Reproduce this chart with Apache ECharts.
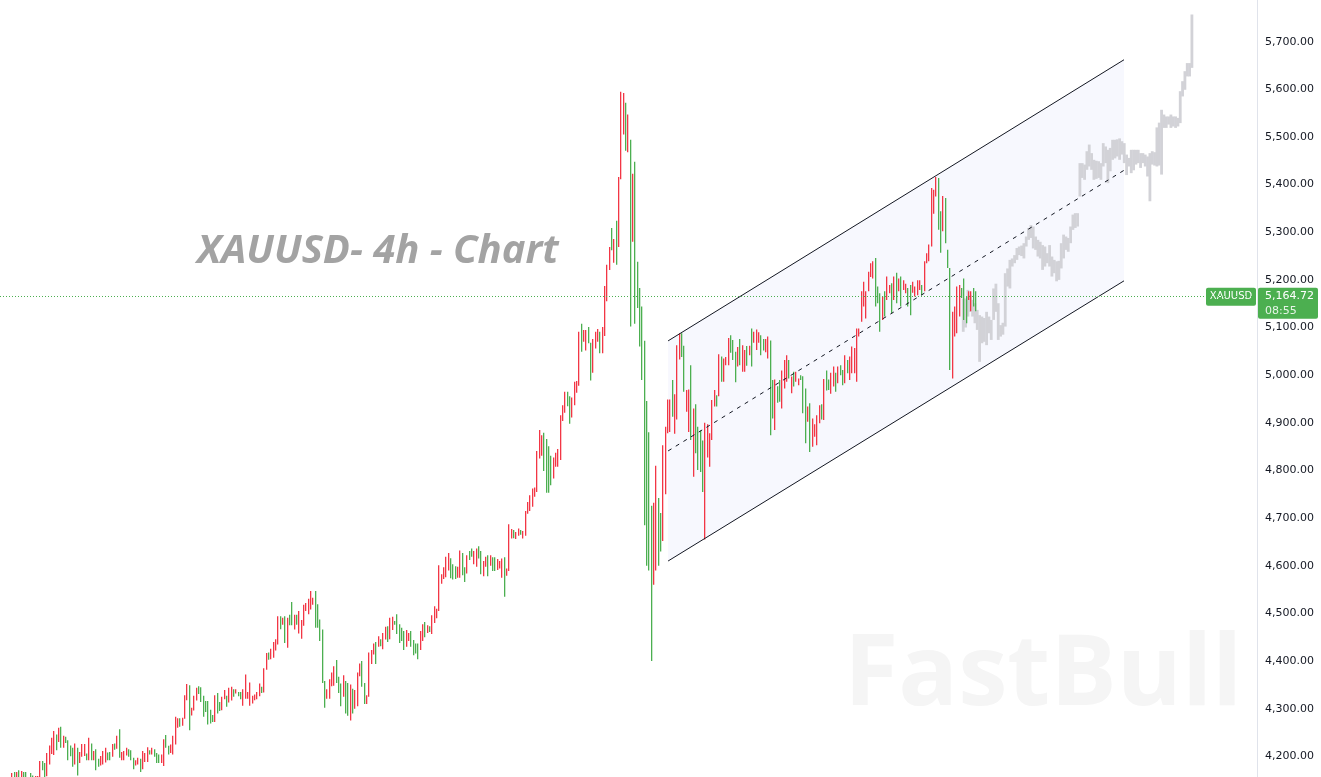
<!DOCTYPE html>
<html>
<head>
<meta charset="utf-8">
<title>XAUUSD 4h</title>
<script src="https://cdn.jsdelivr.net/npm/echarts@6.0.0/dist/echarts.min.js"></script>
<style>
  html, body { margin: 0; padding: 0; background: #fff; overflow: hidden; }
  /* 画布比窗口略高, 让 5,700 / 4,200 刻度落在截图里的位置 */
  #main { position: absolute; left: 0; top: -6px; width: 1321px; height: 810px; }
</style>
</head>
<body>
<div id="main"></div>
<script>
// 4h K线 最高价
const barHigh = [
  4165,4167,4167,4171,4169,4167,4167,4155,4165,4160,4159,4159,4190,4190,4186,4207,4223,4239,4253,4246,
  4260,4262,4243,4241,4234,4223,4218,4227,4218,4209,4226,4226,4206,4239,4227,4211,4215,4195,4201,4211,
  4218,4208,4209,4226,4227,4243,4257,4209,4211,4218,4215,4213,4197,4192,4197,4195,4211,4207,4219,4213,
  4218,4215,4207,4204,4204,4236,4245,4222,4225,4243,4283,4280,4280,4281,4328,4352,4349,4302,4327,4344,
  4347,4345,4327,4316,4316,4298,4287,4328,4333,4314,4325,4339,4327,4344,4346,4341,4341,4335,4335,4341,
  4372,4335,4355,4327,4330,4335,4353,4346,4385,4417,4418,4426,4440,4446,4494,4494,4491,4494,4491,4497,
  4524,4497,4497,4505,4486,4518,4522,4531,4547,4533,4547,4519,4487,4466,4358,4341,4362,4376,4389,4402,
  4367,4353,4370,4358,4354,4351,4342,4339,4376,4395,4400,4354,4328,4418,4423,4437,4440,4452,4446,4459,
  4472,4473,4491,4493,4484,4498,4477,4470,4463,4465,4459,4463,4444,4437,4437,4463,4477,4482,4475,4473,
  4496,4515,4510,4601,4582,4597,4619,4627,4616,4603,4599,4598,4632,4627,4597,4622,4631,4636,4631,4636,
  4641,4631,4610,4619,4622,4622,4618,4618,4614,4610,4615,4618,4594,4687,4677,4675,4671,4678,4675,4673,
  4715,4734,4748,4762,4764,4841,4885,4874,4879,4866,4851,4831,4827,4837,4845,4916,4937,4965,4965,4956,
  4953,4986,4988,5091,5108,5095,5095,5101,5068,5076,5091,5097,5091,5101,5187,5232,5269,5309,5286,5324,
  5416,5595,5592,5572,5547,5494,5423,5448,5238,5183,5144,5072,4946,4880,4726,4732,4810,4742,4711,4853,
  4892,4949,4949,4990,4960,5063,5088,5088,5062,4969,4970,5021,4930,4939,4892,4884,4863,4900,4897,4878,
  4948,4969,4958,5044,5039,5035,5038,5078,5084,5074,5049,5059,5076,5063,5053,5061,5062,5098,5091,5096,
  5090,5084,5076,5076,5081,5073,4990,4991,4977,4990,5010,5032,5042,5032,4997,5007,5007,4993,5000,4998,
  4972,4934,4941,4909,4897,4916,4937,4939,4992,5010,4991,5005,5018,5005,5018,5021,5011,5042,5032,5039,
  5060,5057,5098,5098,5176,5196,5176,5217,5235,5239,5246,5186,5172,5165,5176,5207,5189,5193,5207,5215,
  5203,5207,5199,5192,5183,5189,5196,5186,5199,5199,5189,5239,5256,5274,5393,5389,5416,5414,5344,5376,
  5372,5263,5225,5133,5144,5186,5189,5183,5203,5165,5176,5176,5183,5176
];
// 最低价
const barLow = [
  4148,4150,4152,4150,4152,4155,4154,4140,4152,4150,4148,4147,4150,4171,4150,4158,4183,4205,4203,4213,
  4230,4218,4218,4228,4192,4200,4178,4183,4160,4186,4199,4201,4192,4192,4192,4192,4171,4178,4181,4183,
  4187,4192,4192,4199,4214,4216,4197,4192,4192,4202,4199,4192,4173,4181,4183,4167,4173,4188,4188,4204,
  4204,4199,4186,4186,4186,4180,4218,4204,4207,4204,4225,4260,4262,4264,4279,4318,4255,4286,4296,4317,
  4331,4314,4283,4293,4267,4269,4272,4272,4290,4295,4297,4320,4304,4313,4317,4325,4332,4326,4320,4306,
  4321,4321,4306,4311,4318,4320,4326,4333,4334,4382,4403,4404,4407,4422,4435,4467,4476,4438,4428,4475,
  4475,4466,4476,4458,4447,4474,4505,4498,4508,4518,4470,4470,4442,4354,4302,4321,4321,4347,4348,4354,
  4333,4305,4325,4290,4285,4275,4290,4300,4305,4368,4346,4310,4310,4325,4394,4414,4394,4430,4431,4425,
  4445,4440,4446,4465,4476,4457,4438,4442,4423,4430,4442,4430,4412,4416,4404,4423,4442,4450,4459,4461,
  4457,4480,4490,4505,4562,4572,4576,4590,4574,4571,4572,4575,4575,4580,4566,4584,4612,4619,4603,4598,
  4615,4582,4578,4598,4578,4600,4589,4589,4591,4594,4575,4535,4579,4589,4657,4658,4656,4663,4665,4657,
  4663,4709,4715,4724,4745,4755,4825,4831,4799,4753,4753,4769,4783,4808,4808,4822,4904,4921,4935,4898,
  4911,4937,4963,4978,5049,5070,5052,5067,4989,5005,5056,5070,5046,5046,5082,5155,5221,5262,5236,5232,
  5269,5411,5505,5471,5468,5102,5280,5108,5141,5060,4990,4685,4600,4590,4400,4560,4590,4600,4630,4652,
  4750,4878,4881,4913,4877,4907,5033,5038,4965,4923,4881,4864,4787,4836,4801,4797,4755,4655,4827,4808,
  4864,4934,4934,4956,4986,4986,5021,5021,5047,5032,4985,5018,5021,5007,5007,5020,5042,5018,5068,5053,
  5068,5042,5052,5048,5035,4874,4909,4885,4942,4944,4930,4972,4986,4993,4962,4976,4986,4979,4990,4920,
  4857,4902,4839,4850,4871,4853,4899,4907,4906,4968,4969,4961,4976,4965,4983,5000,4979,4983,5004,4990,
  5004,5004,4986,5081,5112,5144,5119,5176,5206,5203,5144,5151,5091,5116,5123,5158,5172,5130,5158,5151,
  5176,5144,5179,5172,5144,5126,5173,5165,5168,5179,5168,5176,5235,5239,5270,5339,5375,5305,5257,5302,
  5277,5225,5011,4993,5081,5088,5123,5162,5116,5109,5158,5134,5144,5134
];
// 1 = 收涨(红) 0 = 收跌(绿)
const barUp = [
  1,0,1,0,1,0,0,0,0,0,1,1,1,0,0,1,1,1,1,0,
  1,0,1,0,0,0,0,1,0,1,1,1,0,1,0,1,0,0,1,1,
  1,0,0,1,0,1,0,1,1,1,0,0,0,1,1,0,1,1,1,0,
  1,0,0,0,1,1,0,0,1,1,1,1,0,1,1,1,0,1,1,1,
  0,0,0,0,0,0,0,1,0,0,1,1,0,1,1,0,1,0,0,1,
  1,1,1,1,1,1,1,0,1,1,0,1,1,1,1,0,1,0,1,0,
  0,1,0,1,1,1,1,1,1,1,0,0,0,0,0,1,1,1,1,0,
  0,0,1,0,0,1,0,1,1,1,0,0,1,1,1,1,0,1,0,1,
  1,0,1,1,0,0,0,0,0,1,1,0,0,0,0,1,1,0,1,0,
  1,1,1,1,1,1,1,1,0,0,0,1,1,0,0,1,0,0,1,1,
  0,0,1,1,0,1,0,0,1,1,1,0,1,1,1,0,1,1,0,1,
  1,1,1,1,1,1,1,1,0,0,0,0,1,1,1,1,1,1,0,0,
  1,1,1,1,0,1,1,0,0,1,1,1,0,1,1,1,1,0,1,0,
  1,1,1,0,1,0,1,0,0,0,0,0,0,0,0,1,1,0,0,1,
  1,1,1,0,1,1,1,0,0,1,1,0,1,0,0,0,0,1,1,1,
  1,1,0,1,0,1,1,1,0,0,0,1,0,1,1,0,1,0,1,1,
  1,0,0,1,1,0,0,1,0,0,1,1,1,0,1,0,1,1,0,0,
  0,1,0,1,1,1,1,0,1,0,0,1,1,0,1,0,0,1,0,1,
  1,1,1,1,1,1,1,1,1,1,0,0,0,1,0,1,1,0,1,0,
  1,0,1,1,0,0,1,1,1,1,0,1,1,1,1,1,1,0,0,1,
  0,0,0,1,1,1,1,0,0,0,1,1,0,0
];

// 灰色投影 (bars pattern), 从第 408 根开始
const ghostStart = 408;
const ghostHigh = [
  5161,5161,5179,5168,5158,5151,5137,5126,5123,5120,5133,5123,5116,5182,5192,5151,5105,5110,5214,5224,
  5242,5245,5252,5267,5270,5272,5277,5291,5309,5315,5312,5291,5284,5280,5273,5270,5256,5273,5249,5242,
  5239,5240,5277,5295,5291,5288,5312,5337,5340,5340,5445,5445,5442,5470,5484,5466,5452,5450,5449,5445,
  5487,5480,5473,5477,5494,5494,5495,5497,5491,5487,5463,5456,5473,5473,5473,5473,5466,5466,5463,5459,
  5466,5470,5468,5520,5530,5557,5547,5543,5543,5547,5543,5543,5540,5596,5617,5638,5655,5655,5757
];
const ghostLow = [
  5091,5100,5123,5133,5123,5109,5095,5028,5067,5070,5063,5088,5074,5116,5133,5074,5081,5085,5102,5186,
  5182,5228,5235,5242,5252,5250,5245,5270,5284,5288,5266,5263,5249,5245,5221,5228,5235,5228,5207,5214,
  5197,5200,5224,5245,5263,5259,5277,5305,5309,5312,5375,5414,5410,5431,5438,5431,5410,5412,5414,5410,
  5438,5445,5403,5428,5452,5455,5459,5452,5463,5445,5420,5438,5424,5430,5442,5445,5435,5445,5438,5417,
  5365,5442,5440,5438,5440,5421,5519,5519,5526,5519,5522,5519,5522,5529,5585,5599,5627,5627,5645
];

// 平行通道 (起止 K 线序号, 上/下轨价格)
const channelX = [281.5, 476.9];
const channelUpper = [5072, 5662];
const channelLower = [4610, 5198];
const channelMid = [(channelUpper[0] + channelLower[0]) / 2, (channelUpper[1] + channelLower[1]) / 2];

const yTicks = { min: 4100, max: 5800, step: 100 };
const lastPrice = 5164.72;
const lastPriceText = "5,164.72";
const countdown = "08:55";
const symbolName = "XAUUSD";
const titleText = "XAUUSD- 4h - Chart";

const upColor = "#f23645";
const downColor = "#4caf50";

const barData = barHigh.map((h, i) => [i, barLow[i], h, barUp[i]]);
const ghostData = ghostHigh.map((h, i) => [ghostStart + i, ghostLow[i], h]);

function fmtPrice(v) {
  return String(Math.round(v)).replace(/\B(?=(\d{3})+(?!\d))/g, ",") + ".00";
}

const chart = echarts.init(document.getElementById("main"), null, { renderer: "canvas" });

const option = {
  animation: false,
  backgroundColor: "#ffffff",
  grid: { left: 0, right: 64, top: 0, bottom: 0 },
  xAxis: {
    type: "value",
    min: -4.84,
    max: 533.9,
    show: false,
  },
  yAxis: {
    type: "value",
    position: "right",
    min: yTicks.min,
    max: yTicks.max,
    interval: yTicks.step,
    splitLine: { show: false },
    axisTick: { show: false },
    axisLine: { show: true, onZero: false, lineStyle: { color: "#e0e3eb", width: 1 } },
    axisLabel: {
      margin: 8,
      color: "#131722",
      fontSize: 11,
      fontFamily: "DejaVu Sans",
      showMinLabel: false,
      showMaxLabel: false,
      formatter: fmtPrice,
    },
  },
  series: [
    {
      // 通道底色
      type: "custom",
      z: 1,
      silent: true,
      data: [[channelX[0], channelLower[0]]],
      renderItem: function (params, api) {
        const a = api.coord([channelX[0], channelUpper[0]]);
        const b = api.coord([channelX[1], channelUpper[1]]);
        const c = api.coord([channelX[1], channelLower[1]]);
        const d = api.coord([channelX[0], channelLower[0]]);
        return {
          type: "polygon",
          shape: { points: [a, b, c, d] },
          style: { fill: "#f7f8fe" },
        };
      },
    },
    {
      // 灰色投影K线
      type: "custom",
      z: 2,
      silent: true,
      encode: { x: 0, y: [1, 2] },
      data: ghostData,
      renderItem: function (params, api) {
        const top = api.coord([api.value(0), api.value(2)]);
        const bot = api.coord([api.value(0), api.value(1)]);
        return {
          type: "rect",
          shape: { x: top[0] - 1.4, y: top[1], width: 2.8, height: Math.max(1, bot[1] - top[1]) },
          style: { fill: "#d2d2d7" },
        };
      },
    },
    {
      // 美国线 (只画高低)
      type: "custom",
      z: 3,
      silent: true,
      encode: { x: 0, y: [1, 2] },
      data: barData,
      renderItem: function (params, api) {
        const top = api.coord([api.value(0), api.value(2)]);
        const bot = api.coord([api.value(0), api.value(1)]);
        return {
          type: "rect",
          shape: { x: Math.round(top[0]), y: top[1], width: 1.3, height: Math.max(1, bot[1] - top[1]) },
          style: { fill: api.value(3) ? upColor : downColor },
        };
      },
    },
    {
      type: "line",
      z: 4,
      silent: true,
      symbol: "none",
      lineStyle: { color: "#131722", width: 1 },
      data: [[channelX[0], channelUpper[0]], [channelX[1], channelUpper[1]]],
    },
    {
      type: "line",
      z: 4,
      silent: true,
      symbol: "none",
      lineStyle: { color: "#131722", width: 1 },
      data: [[channelX[0], channelLower[0]], [channelX[1], channelLower[1]]],
    },
    {
      type: "line",
      z: 4,
      silent: true,
      symbol: "none",
      lineStyle: { color: "#131722", width: 1, type: [4, 5] },
      data: [[channelX[0], channelMid[0]], [channelX[1], channelMid[1]]],
      markLine: {
        silent: true,
        symbol: "none",
        label: { show: false },
        lineStyle: { color: "#4caf50", width: 1, type: [1, 2], opacity: 1 },
        data: [{ yAxis: lastPrice }],
      },
    },
  ],
};
chart.setOption(option);

// 现价标签 + 标题 + 水印 (容器坐标 = 页面坐标 + 6)
const py = chart.convertToPixel({ yAxisIndex: 0 }, lastPrice);
chart.setOption({
  graphic: [
    {
      type: "text",
      left: 844,
      top: 633,
      z: 0,
      silent: true,
      style: {
        text: "FastBull",
        font: "bold 99px 'Open Sans'",
        fill: "#f5f5f5",
        shadowColor: "rgba(0,0,0,0.08)",
        shadowBlur: 10,
        shadowOffsetY: 3,
      },
    },
    {
      type: "text",
      x: 197,
      y: 258,
      z: 10,
      silent: true,
      style: {
        text: titleText,
        font: "italic bold 40px 'Open Sans'",
        fill: "#a3a3a3",
        verticalAlign: "middle",
      },
    },
    {
      type: "group",
      z: 20,
      silent: true,
      children: [
        {
          type: "rect",
          shape: { x: 1206, y: py - 9, width: 50, height: 18, r: 2 },
          style: { fill: "#4caf50" },
        },
        {
          type: "text",
          x: 1231,
          y: py,
          style: {
            text: symbolName,
            fill: "#ffffff",
            font: "10px 'DejaVu Sans'",
            align: "center",
            verticalAlign: "middle",
          },
        },
        {
          type: "rect",
          shape: { x: 1258, y: py - 9, width: 60, height: 31, r: 2 },
          style: { fill: "#4caf50" },
        },
        {
          type: "text",
          x: 1265,
          y: py - 1,
          style: {
            text: lastPriceText,
            fill: "#ffffff",
            font: "11px 'DejaVu Sans'",
            align: "left",
            verticalAlign: "middle",
          },
        },
        {
          type: "text",
          x: 1265,
          y: py + 14,
          style: {
            text: countdown,
            fill: "#e6f4e7",
            font: "11px 'DejaVu Sans'",
            align: "left",
            verticalAlign: "middle",
          },
        },
      ],
    },
  ],
});
</script>
</body>
</html>
